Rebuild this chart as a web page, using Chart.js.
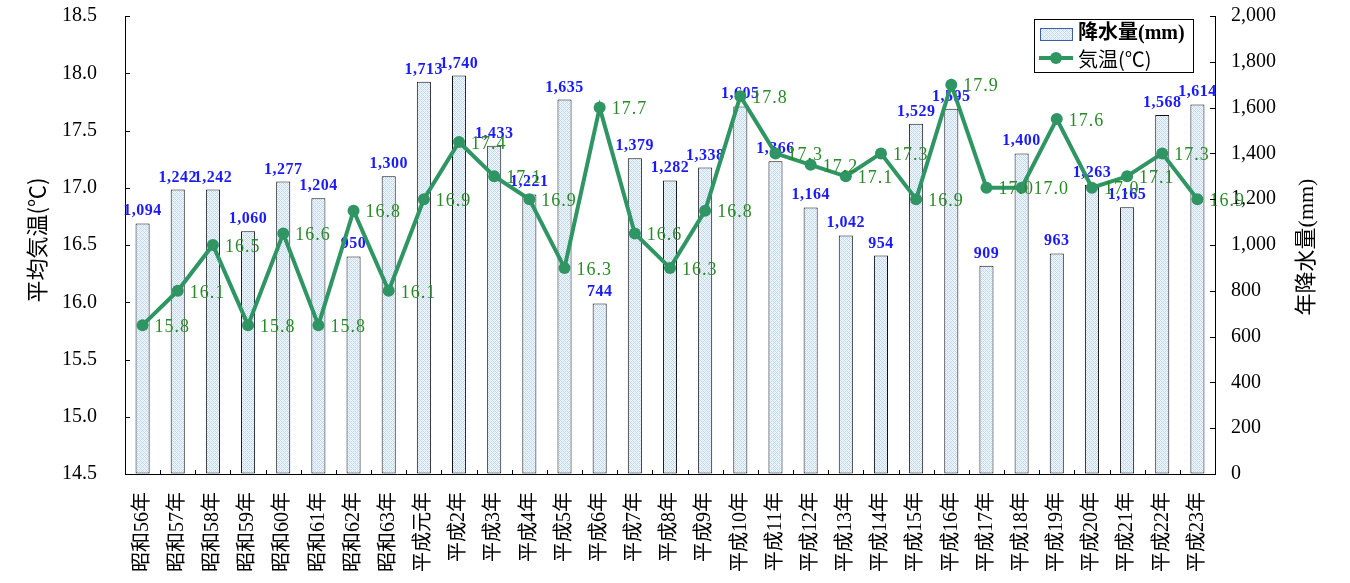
<!DOCTYPE html>
<html><head><meta charset="utf-8">
<script src="https://cdn.jsdelivr.net/npm/chart.js@4/dist/chart.umd.min.js"></script>
<style>html,body{margin:0;padding:0;background:#fff;}#wrap{width:1350px;height:583px;}</style>
</head><body><div id="wrap"><canvas id="c" width="1350" height="583"></canvas></div>
<script>
const categories = ['昭和56年','昭和57年','昭和58年','昭和59年','昭和60年','昭和61年','昭和62年','昭和63年','平成元年','平成2年','平成3年','平成4年','平成5年','平成6年','平成7年','平成8年','平成9年','平成10年','平成11年','平成12年','平成13年','平成14年','平成15年','平成16年','平成17年','平成18年','平成19年','平成20年','平成21年','平成22年','平成23年'];
const rainfall = [1094,1242,1242,1060,1277,1204,950,1300,1713,1740,1433,1221,1635,744,1379,1282,1338,1605,1366,1164,1042,954,1529,1595,909,1400,963,1263,1165,1568,1614];
const temperature = [15.8,16.1,16.5,15.8,16.6,15.8,16.8,16.1,16.9,17.4,17.1,16.9,16.3,17.7,16.6,16.3,16.8,17.8,17.3,17.2,17.1,17.3,16.9,17.9,17.0,17.0,17.6,17.0,17.1,17.3,16.9];
const tempAxis = {min:14.5, max:18.5, step:0.5};
const rainAxis = {min:0, max:2000, step:200};
const leftTitle = '平均気温(℃)';
const rightTitle = '年降水量(mm)';
const legendLabels = ['降水量(mm)','気温(℃)'];

const GREEN = '#2f9563';
const LABEL_GREEN = '#2a8a2a';
const BLUE = '#1a1aff';
const SERIF_CJK = '"Liberation Serif","Noto Sans CJK JP"';

const canvas = document.getElementById('c');
const ctx0 = canvas.getContext('2d');
function makePattern(){
  const p = document.createElement('canvas'); p.width = 4; p.height = 4;
  const g = p.getContext('2d');
  g.fillStyle = '#f4f8fe'; g.fillRect(0,0,4,4);
  g.fillStyle = '#bcd6f6';
  for (let y=0;y<4;y++) for (let x=0;x<4;x++) {
    if ((x+y)%4===0 || (x-y+8)%4===0) g.fillRect(x,y,1,1);
  }
  g.fillStyle = '#dce9fa';
  for (let y=0;y<4;y++) for (let x=0;x<4;x++) {
    if ((x+y)%4===2 && (x-y+8)%4===2) g.fillRect(x,y,1,1);
  }
  return ctx0.createPattern(p,'repeat');
}
const pattern = makePattern();

function zeroPad(s){ s.paddingTop = 0; s.paddingBottom = 0; s.paddingLeft = 0; s.paddingRight = 0; }

const decor = {
  id:'decor',
  afterDatasetDraw(chart, args){
    if (args.index !== 0) return;
    const ctx = chart.ctx; const meta = chart.getDatasetMeta(0);
    ctx.save();
    ctx.font = 'bold 16px "Liberation Serif"';
    try { ctx.letterSpacing = '0.5px'; } catch(e){}
    ctx.fillStyle = BLUE; ctx.textAlign = 'center'; ctx.textBaseline = 'alphabetic';
    meta.data.forEach((el,i)=>{
      ctx.fillText(rainfall[i].toLocaleString('en-US'), el.x, el.y - 8);
    });
    ctx.restore();
  },
  afterDatasetsDraw(chart){
    const ctx = chart.ctx; const meta = chart.getDatasetMeta(1);
    ctx.save();
    ctx.font = '18px "Liberation Serif"';
    try { ctx.letterSpacing = '1px'; } catch(e){}
    ctx.fillStyle = LABEL_GREEN; ctx.textAlign = 'left'; ctx.textBaseline = 'middle';
    meta.data.forEach((el,i)=>{
      ctx.fillText(temperature[i].toFixed(1), el.x + 12, el.y + 2);
    });
    ctx.restore();
  },
  afterDraw(chart){
    const ctx = chart.ctx; const a = chart.chartArea;
    const ys = chart.scales.y, y1 = chart.scales.y1;
    ctx.save();
    ctx.strokeStyle = '#000'; ctx.lineWidth = 1;
    ctx.beginPath();
    ys.ticks.forEach(t=>{ const py = Math.round(ys.getPixelForValue(t.value))+0.5; ctx.moveTo(a.left, py); ctx.lineTo(a.left+5, py); });
    y1.ticks.forEach(t=>{ const py = Math.round(y1.getPixelForValue(t.value))+0.5; ctx.moveTo(a.right-5, py); ctx.lineTo(a.right, py); });
    const n = categories.length; const w = (a.right-a.left)/n;
    for (let i=1;i<n;i++){ const px = Math.round(a.left + i*w)+0.5; ctx.moveTo(px, a.bottom-4); ctx.lineTo(px, a.bottom); }
    ctx.stroke();
    // axis titles
    ctx.fillStyle = '#000'; ctx.textAlign = 'center'; ctx.textBaseline = 'middle';
    ctx.font = '22px "Noto Sans CJK JP"';
    ctx.save(); ctx.translate(37, 240); ctx.rotate(-Math.PI/2); ctx.fillText(leftTitle, 0, 0); ctx.restore();
    ctx.font = '22px ' + SERIF_CJK;
    ctx.save(); ctx.translate(1307, 247); ctx.rotate(-Math.PI/2); ctx.fillText(rightTitle, 0, 0); ctx.restore();
    // legend
    const lx = 1034, ly = 19, lw = 159, lh = 53;
    ctx.fillStyle = '#fff'; ctx.fillRect(lx, ly, lw, lh);
    ctx.strokeStyle = '#000'; ctx.lineWidth = 1; ctx.strokeRect(lx+0.5, ly+0.5, lw, lh);
    ctx.fillStyle = pattern; ctx.fillRect(1040, 28, 32, 12);
    ctx.strokeStyle = '#3a5fa8'; ctx.strokeRect(1040.5, 28.5, 32, 12);
    ctx.strokeStyle = GREEN; ctx.lineWidth = 4;
    ctx.beginPath(); ctx.moveTo(1039, 58); ctx.lineTo(1073, 58); ctx.stroke();
    ctx.fillStyle = GREEN; ctx.beginPath(); ctx.arc(1056, 58, 6, 0, Math.PI*2); ctx.fill();
    ctx.fillStyle = '#000'; ctx.textAlign = 'left';
    ctx.font = 'bold 20px ' + SERIF_CJK;
    ctx.fillText(legendLabels[0], 1078, 34);
    ctx.font = '20px "Noto Sans CJK JP"';
    ctx.fillText(legendLabels[1], 1078, 59);
    ctx.restore();
  }
};

new Chart(canvas, {
  data: {
    labels: categories,
    datasets: [
      { type:'bar', label: legendLabels[0], data: rainfall, yAxisID:'y1', order:2,
        backgroundColor: pattern, borderColor:'#111', borderWidth:1, borderSkipped:false,
        barPercentage:0.4, categoryPercentage:1.0 },
      { type:'line', label: legendLabels[1], data: temperature, yAxisID:'y', order:1,
        borderColor: GREEN, backgroundColor: GREEN, borderWidth:4, tension:0,
        pointRadius:6, pointBackgroundColor: GREEN, pointBorderColor: GREEN, pointBorderWidth:0 }
    ]
  },
  options: {
    responsive:false, animation:false, devicePixelRatio:1,
    layout:{ autoPadding:false, padding:{ top:16, left:0, right:0, bottom:0 } },
    plugins:{ legend:{display:false}, tooltip:{enabled:false} },
    scales:{
      x:{ grid:{ display:true, drawOnChartArea:false, drawTicks:false },
          border:{ display:true, color:'#000', width:1 },
          ticks:{ autoSkip:false, maxRotation:90, minRotation:90, padding:18, color:'#000',
                  font:{ family: '"Liberation Serif","Noto Sans CJK JP"', size:20 } },
          afterFit(s){ s.height = 109; zeroPad(s); } },
      y:{ position:'left', min:tempAxis.min, max:tempAxis.max,
          grid:{ drawOnChartArea:false, drawTicks:false },
          border:{ display:true, color:'#000', width:1 },
          ticks:{ stepSize:tempAxis.step, padding:28, color:'#000',
                  font:{ family:'"Liberation Serif"', size:20 },
                  callback:(v)=>v.toFixed(1) },
          afterFit(s){ s.width = 125; zeroPad(s); } },
      y1:{ position:'right', min:rainAxis.min, max:rainAxis.max,
          grid:{ drawOnChartArea:false, drawTicks:false },
          border:{ display:true, color:'#000', width:1 },
          ticks:{ stepSize:rainAxis.step, padding:16, color:'#000',
                  font:{ family:'"Liberation Serif"', size:20 },
                  callback:(v)=>v.toLocaleString('en-US') },
          afterFit(s){ s.width = 135; zeroPad(s); } }
    }
  },
  plugins:[decor]
});
</script></body></html>
